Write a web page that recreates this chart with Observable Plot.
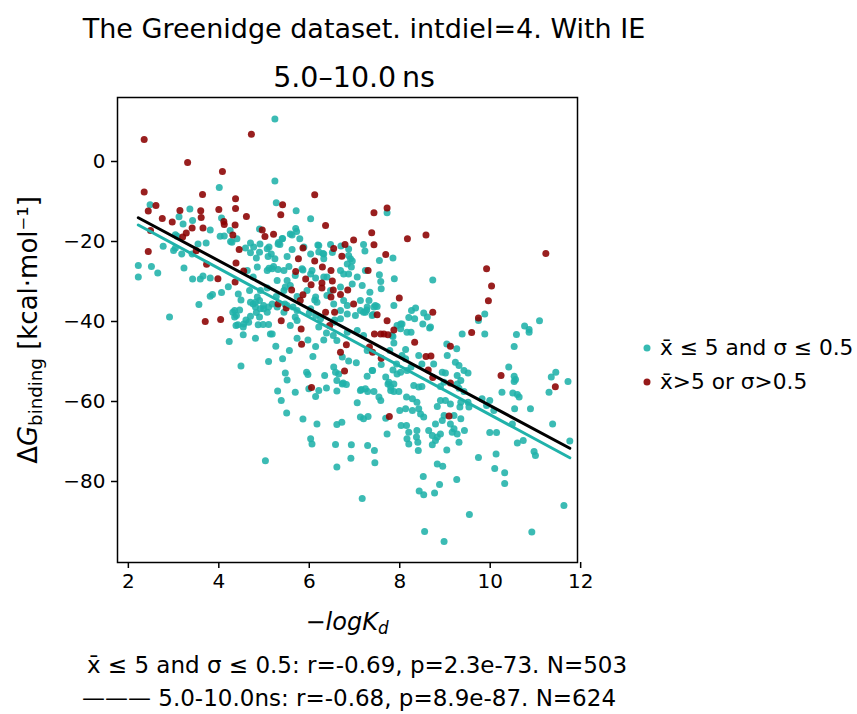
<!DOCTYPE html>
<html>
<head>
<meta charset="utf-8">
<script src="https://cdn.jsdelivr.net/npm/d3@7"></script>
<script src="https://cdn.jsdelivr.net/npm/@observablehq/plot@0.6"></script>
<style>
  html, body { margin: 0; padding: 0; background: #fff; }
  #wrap { position: relative; width: 857px; height: 714px; font-family: "DejaVu Sans", sans-serif; color: #000; overflow: hidden; }
  #wrap svg { position: absolute; left: 0; top: 0; }
  .txt { position: absolute; white-space: nowrap; line-height: 1; }
  .center { transform: translate(-50%, -50%); }
  .leg { position: absolute; white-space: nowrap; line-height: 1; transform: translateY(-50%); font-size: 21.7px; }
  .dot { position: absolute; width: 7px; height: 7px; border-radius: 50%; transform: translate(-50%, -50%); }
</style>
</head>
<body>
<div id="wrap"></div>
<script>
// ---- data (x = -logKd, y = ΔG binding) ----
const groupNames = ["x\u0304 \u2264 5 and \u03c3 \u2264 0.5", "x\u0304>5 or \u03c3>0.5"];
const groupColors = ["#20b2aa", "#8b0000"];

const tealPoints = [
[5.24,10.6],[5.24,-4.9],[4.01,-6.5],[5.27,-10.3],[2.48,-10.8],[3.36,-11.9],[3.12,-13.8],[3.21,-15.6],[3.42,-14.75],[4.06,-14.1],
[3.81,-17.1],[4.03,-18.7],[4.25,-17.25],[4.12,-18.6],[4.26,-20],[5.71,-12.3],[6.03,-14.3],[4.9,-16.9],[5.7,-16.75],[5.62,-18.4],
[5.79,-19.3],[5.41,-19.25],[5.32,-20.25],[2.77,-21.2],[3.0,-22.25],[3.08,-18.7],[3.18,-23.1],[3.41,-23.1],[3.54,-20.6],[3.72,-20.4],
[2.22,-26],[2.22,-28.9],[2.51,-26.25],[2.65,-27.9],[3.23,-26.6],[3.42,-29.4],[3.59,-29.4],[3.65,-28.6],[3.81,-29.1],[3.81,-33.7],
[3.86,-33.25],[4.06,-32.75],[4.21,-31.3],[4.43,-33.1],[4.49,-34.6],[3.56,-35.75],[2.91,-38.9],[4.59,-21.6],[4.7,-22.8],[4.83,-24.1],
[4.77,-21.4],[4.91,-20.6],[5.11,-21.4],[5.16,-23.1],[5.35,-20.75],[5.11,-26.7],[5.21,-26.25],[5.31,-27],[5.44,-27.25],[4.85,-26.4],
[4.76,-28.9],[4.68,-32.25],[4.76,-35.6],[4.9,-34.75],[4.99,-36.8],[4.83,-37.75],[4.6,-39.6],[4.35,-37.25],[5.27,-33.75],[5.44,-32.25],
[5.58,-31],[5.46,-35.6],[5.64,-36.4],[5.73,-33.75],[5.95,-32.25],[6.12,-34.6],[5.69,-38.9],[6.0,-37.9],[6.56,-39.6],[5.58,-18.1],
[5.88,-21.4],[6.03,-23.1],[6.21,-21],[6.32,-23.1],[6.47,-20.75],[6.7,-21.1],[5.86,-27.1],[6.03,-28.1],[6.39,-28.9],[6.69,-27.25],
[6.84,-25.6],[6.47,-32.25],[6.76,-34.75],
[4.29,-20.2],[4.4,-19.3],[3.04,-18.3],[3.04,-21.6],[4.7,-20.4],[4.9,-22.7],[5.07,-21.8],[5.31,-20.6],[5.4,-19.3],[5.51,-23.75],
[5.09,-23.75],[5.24,-24.3],[5.07,-27.25],[5.18,-26.8],[4.63,-27.25],[4.7,-35.2],[4.85,-33.9],[4.81,-36.4],[4.99,-36],[5.07,-37.7],
[4.9,-38.9],[4.7,-38.7],[4.31,-37.7],[4.35,-38.9],[5.29,-36.4],[5.44,-37.7],[5.47,-31.4],[5.29,-29.75],[5.07,-31.6],[4.92,-32.25],
[5.72,-17.5],[5.62,-22],[5.55,-26.25],[6.19,-20.9],[6.3,-23],[6.32,-24.3],[6.21,-22.6],[6.51,-22.75],[6.87,-21.9],[6.91,-24.3],
[6.95,-24.9],[6.87,-23.5],[7.2,-20.75],[7.23,-22.4],[7.55,-24.75],[7.85,-24.1],[6.93,-26.4],[6.76,-28.1],[7.06,-28.9],[7.24,-27.25],
[7.55,-28.3],[7.58,-30],[7.59,-31.8],[7.88,-29.3],[8.73,-29.6],[7.34,-32.7],[7.13,-34.75],[7.32,-34.75],[7.46,-36],[7.87,-36],
[8.26,-37.25],[8.35,-36.6],[8.53,-37.9],[8.61,-38.9],[8.2,-39],[7.2,-37.7],[7.39,-38.5],[6.84,-36],[6.69,-37.25],[6.69,-31.4],
[6.14,-33.9],[6.17,-35.2],[6.39,-33.5],[6.54,-35.6],[5.69,-28.5],[5.84,-26.8],[6.06,-27.25],[6.14,-29.1],[6.32,-28.9],[6.87,-28.1],
[6.95,-30.6],[7.17,-31],[5.51,-29.75],[7.72,-12.8],
[7.27,-37.1],[7.41,-38.25],[8.02,-40.6],[8.66,-41.6],[9.88,-38.1],[9.74,-39.75],[10.76,-41.1],[11.09,-39.8],[10.86,-42],
[8.51,-40.6],[8.16,-42.7],[8.25,-42.7],[7.83,-43.5],[7.87,-45.4],[7.78,-47.25],[7.59,-50.75],[7.28,-47.25],[7.4,-52.25],[7.28,-53.7],
[7.04,-50.3],[6.87,-49.9],[6.73,-48.9],[6.73,-55.6],[7.06,-60.3],[7.15,-57],[7.29,-57.5],[7.43,-57.5],[7.54,-58.9],[7.58,-59.75],
[7.13,-63.9],[7.2,-64.3],[7.3,-63.75],[7.69,-64.2],[7.72,-68.1],[6.93,-70.8],[6.92,-74.2],[7.29,-71],[7.44,-72.25],[7.45,-75.3],
[7.17,-84.25],[7.69,-53.9],[7.74,-55.6],[7.8,-57.25],[7.87,-57.5],[7.98,-57.5],[7.85,-52.1],[7.93,-50.6],[7.94,-53.1],[8.02,-52.7],
[8.16,-52.25],[8.25,-51.4],[8.13,-49.3],[8.05,-48.5],[8.13,-47],[8.42,-48.5],[8.49,-50.6],[8.75,-50.6],[8.31,-56],[8.42,-56.4],
[8.49,-56.25],[8.15,-58.9],[8.28,-59.3],[8.0,-62.25],[8.13,-61.8],[8.28,-62.25],[8.42,-61.8],[8.38,-60.2],[8.53,-63.9],[8.46,-63.1],
[8.03,-66],[8.15,-66],[8.2,-67.7],[8.16,-69.3],[8.2,-70.6],[8.37,-68.9],[8.4,-70.2],[8.41,-72.25],[8.38,-67.25],[8.64,-67.25],
[8.72,-68.5],[8.79,-69.75],[8.83,-68.9],[8.72,-70.8],[8.79,-65.6],[8.9,-68.1],[9.12,-65.6],[9.2,-66.8],[9.27,-68.1],[9.31,-70.2],
[9.43,-67.25],[9.04,-72.1],[8.83,-75.6],[8.95,-76.2],[8.52,-78.75],[8.88,-80.75],[9.26,-79.5],[8.43,-82.4],[8.53,-83.3],[8.77,-82.9],
[8.55,-92.5],[8.98,-95],[9.54,-88.25],[9.74,-74],[10.1,-76.75],[10.32,-77.8],[10.32,-80.5],[10.13,-73.1],[10.92,-92.6],[11.63,-86],
[10.97,-72.5],[11.0,-73.5],[10.73,-69.75],[10.6,-70.4],[11.38,-65.6],[11.76,-69.9],[10.89,-61.8],[9.99,-67.75],[10.14,-67.75],[9.99,-59.75],
[10.08,-62.25],[10.26,-57.7],[10.49,-65.6],[10.53,-55],[10.56,-54.5],[10.5,-57.9],[10.6,-58.25],[10.64,-58.9],[10.41,-51.4],[10.53,-53.7],
[10.53,-46.25],[10.58,-43.25],[10.86,-42.7],[11.35,-53.9],[11.45,-52.7],[11.3,-57.7],[11.72,-55],[9.82,-59.3],[9.92,-61],
[9.88,-43.1],[9.38,-43.1],[9.26,-46.8],[9.04,-45.6],[8.68,-41.4],[8.33,-39.3],[9.05,-48.5],[9.23,-50.2],[9.31,-51],[9.42,-52.25],
[9.51,-52.9],[9.27,-53.5],[9.35,-54.75],[9.27,-55.6],[8.94,-52.7],[9.01,-52.9],[8.98,-55.2],[8.9,-56.25],[9.31,-56.7],[9.42,-57.5],
[9.51,-60.2],[9.53,-61.4],[9.35,-60.2],[9.33,-61.4],[9.01,-59.75],[9.12,-60.6],[8.9,-59.75],[8.83,-61.25],[9.2,-63.5],[8.98,-63.5],
[8.94,-64.75],[9.35,-64.3],[9.16,-67.7],[10.54,-61.8],
[7.24,-37.7],[7.43,-36.4],[7.5,-36.25],[7.94,-41],[8.05,-40.6],[8.02,-41.8],[7.85,-43.75],[7.39,-52.25],[7.24,-56.8],[7.13,-57.25],
[7.76,-55.2],[7.8,-56.4],[7.87,-55.6],
[4.39,-38.5],[4.46,-37.1],[4.66,-40.2],[4.55,-40.6],[4.42,-40.8],[4.54,-43.3],[4.23,-45],[4.49,-51.1],[4.81,-44.2],[4.87,-40.8],
[4.98,-40.75],[4.92,-36.8],[5.1,-36.4],[5.1,-40.75],[5.14,-43.1],[5.18,-43.1],[5.26,-46.2],[5.1,-50],[5.41,-49.3],[5.56,-47.25],
[5.47,-52.9],[5.51,-54.6],[5.3,-57.4],[5.38,-59.75],[5.5,-62.9],[5.69,-57.7],[5.86,-64.4],[6.03,-69.3],[6.06,-70.6],[6.17,-65.6],
[5.94,-52.7],[5.97,-53.25],[5.99,-56.8],[6.14,-58.75],[6.21,-57.25],[6.38,-56.6],[6.34,-53.5],[6.08,-48.75],[6.14,-46.25],[5.97,-44.6],
[5.73,-44.2],[6.32,-44.6],[6.38,-42.9],[6.53,-43.5],[6.61,-44.75],[6.54,-51.4],[6.58,-52.7],[6.65,-53.1],[6.61,-54.75],[6.75,-55.4],
[6.61,-57.4],[6.61,-65.75],[6.72,-65.2],[6.58,-70.75],[4.38,-41],[4.54,-41.4],[5.03,-74.8],[6.61,-76.4],[6.82,-55.75],
[4.81,-35.2],[5.18,-35.6],[5.51,-36],[5.73,-37.25],[6.03,-36.8],[6.14,-38.5],[6.25,-39.3],[6.54,-40.2],[6.69,-39.3],[6.84,-38.1],
[7.13,-37.25],[7.28,-36.4],[7.02,-38.5],[5.73,-39.75],[5.58,-41],[6.21,-41.4],[6.84,-42.7],[7.06,-42.25],[7.2,-43.5]
];

const redPoints = [
[2.35,5.5],[4.72,6.8],[3.31,-0.25],[4.08,-2.5],[2.35,-7.6],[3.64,-8.25],[4.37,-9.3],[4.37,-11.75],[2.44,-12.4],[2.61,-11],
[2.75,-14.25],[2.97,-15.1],[3.14,-12.25],[3.6,-12.3],[3.61,-14],[4.0,-12],[4.11,-15],[4.12,-15.75],[4.36,-15.9],[4.61,-13.75],
[3.41,-16.6],[3.65,-16.6],[3.28,-17.9],[3.2,-18.9],[2.49,-17.25],[4.31,-18.4],[2.44,-22.5],[4.45,-22],[3.5,-22.3],[3.73,-25.7],
[4.38,-25.4],[4.96,-17.1],[5.02,-18.75],[5.21,-18.2],[5.41,-10.8],[5.37,-13.3],[6.12,-8.3],[6.36,-16],[5.86,-21.6],[5.76,-24.3],
[6.12,-24.9],[5.7,-27.5],[6.54,-21.75],[6.79,-20.75],[6.72,-23.7],[6.29,-26.4],[6.48,-27.25],[6.51,-29.9],[6.28,-30.4],[6.04,-30.8],
[5.92,-29.4],[6.85,-32.1],[5.61,-32.1],[5.86,-33.3],[5.8,-34.75],[6.48,-33.9],[6.69,-33.25],[5.31,-35.6],[6.36,-37.7],[6.56,-37.7],
[5.38,-39.8],[3.7,-40],[4.04,-39.5],[5.82,-41.9],[3.98,-29.3],[4.36,-30.1],[4.55,-27.4],[5.49,-36.6],[7.43,-12.8],[7.72,-11.6],
[7.38,-17.8],[8.17,-19.3],[8.58,-18.4],[7.43,-20.8],[6.98,-19.6],[7.69,-23.25],[7.3,-27.25],[6.28,-31.6],[6.53,-32.1],[6.98,-35.6],
[7.5,-38.3],[7.99,-34.1],[8.73,-37.7],[7.72,-39.8],[11.23,-23],[9.92,-26.8],[10.03,-31.1],[9.96,-34.8],[9.74,-39.1],[7.87,-42.1],
[7.44,-43.1],[7.58,-43.1],[7.65,-43.1],[7.74,-43.3],[6.82,-45.8],[6.69,-47.7],[7.33,-46.4],[7.4,-47.7],[7.59,-49.2],[8.33,-45.2],
[8.58,-48.75],[8.69,-48.6],[8.63,-52.1],[9.12,-46.2],[9.59,-42.75],[8.73,-54],[9.12,-55.4],[6.78,-52.4],[7.77,-63.75],[9.09,-63.6],
[10.24,-53.5],[11.44,-56.3],[5.83,-45.7],[6.45,-41],[6.05,-56.5]
];

// linear fits shown in the reference (slope, intercept)
const fitNames = ["5.0-10.0ns", "x\u0304 \u2264 5 and \u03c3 \u2264 0.5"];
const fitSlopes = [-6.04, -6.10];
const fitIntercepts = [-0.65, -2.32];
const fitColors = ["#000000", "#20b2aa"];

const xTicks = [2, 4, 6, 8, 10, 12];
const yTicks = [-80, -60, -40, -20, 0];

const titleText = "The Greenidge dataset. intdiel=4. With IE";
const subtitleText = "5.0\u201310.0\u2009ns";
const statsLines = [
  "x\u0304 \u2264 5 and \u03c3 \u2264 0.5: r=-0.69, p=2.3e-73. N=503",
  "\u2014\u2014\u2014 5.0-10.0ns: r=-0.68, p=8.9e-87. N=624"
];

// ---- build ----
const teal = tealPoints.map(([x, y]) => ({x, y}));
const red = redPoints.map(([x, y]) => ({x, y}));
const allX = [...tealPoints, ...redPoints].map(d => d[0]);
const [x0, x1] = d3.extent(allX);
const fitSegs = [];
fitNames.forEach((n, i) => {
  for (const x of [x0, x1]) fitSegs.push({name: n, x, y: fitSlopes[i] * x + fitIntercepts[i], c: fitColors[i]});
});

const chart = Plot.plot({
  width: 857,
  height: 714,
  marginLeft: 117,
  marginRight: 280,
  marginTop: 97,
  marginBottom: 152,
  style: {fontFamily: "DejaVu Sans", color: "#000", background: "transparent", overflow: "visible"},
  x: {domain: [1.76, 11.93]},
  y: {domain: [-100.25, 16]},
  marks: [
    Plot.dot(teal, {x: "x", y: "y", r: 3.5, fill: groupColors[0], fillOpacity: 0.88, stroke: "none"}),
    Plot.dot(red, {x: "x", y: "y", r: 3.5, fill: groupColors[1], fillOpacity: 0.88, stroke: "none"}),
    Plot.line(fitSegs.filter(d => d.c !== "#000000"), {x: "x", y: "y", z: "name", stroke: fitColors[1], strokeWidth: 3}),
    Plot.line(fitSegs.filter(d => d.c === "#000000"), {x: "x", y: "y", z: "name", stroke: fitColors[0], strokeWidth: 3}),
    Plot.frame({stroke: "#000", strokeWidth: 1.5}),
    Plot.axisX({ticks: xTicks, tickSize: 6, tickPadding: 5, fontSize: 20, strokeWidth: 1.5, label: null, tickFormat: d3.format("d")}),
    Plot.axisY({ticks: yTicks, tickSize: 6, tickPadding: 6, fontSize: 20, strokeWidth: 1.5, label: null, tickFormat: d3.format("d")})
  ]
});

const wrap = document.getElementById("wrap");
wrap.appendChild(chart);

function addText(html, left, top, size, extra) {
  const d = document.createElement("div");
  d.className = "txt center";
  d.style.left = left + "px";
  d.style.top = top + "px";
  d.style.fontSize = size + "px";
  if (extra) Object.assign(d.style, extra);
  d.innerHTML = html;
  wrap.appendChild(d);
  return d;
}

addText(titleText, 364, 28, 27);
addText(subtitleText, 354, 78, 28.5);
addText("\u2212<i>logK</i><sub style='font-size:0.7em;vertical-align:-0.25em'><i>d</i></sub>", 347, 623, 24);
addText("\u0394<i>G</i><sub style='font-size:0.7em;vertical-align:-0.25em'>binding</sub> [kcal\u00b7mol\u207b\u00b9]", 30, 330, 26,
        {transform: "translate(-50%, -50%) rotate(-90deg)"});
addText(statsLines[0], 357, 665, 23);
addText(statsLines[1], 349, 698, 23);

groupNames.forEach((name, i) => {
  const yy = 348 + i * 34;
  const dot = document.createElement("div");
  dot.className = "dot";
  dot.style.left = "647px";
  dot.style.top = yy + "px";
  dot.style.background = groupColors[i];
  dot.style.opacity = 0.9;
  wrap.appendChild(dot);
  const t = document.createElement("div");
  t.className = "leg";
  t.style.left = "660px";
  t.style.top = yy + "px";
  t.textContent = name;
  wrap.appendChild(t);
});
</script>
</body>
</html>
